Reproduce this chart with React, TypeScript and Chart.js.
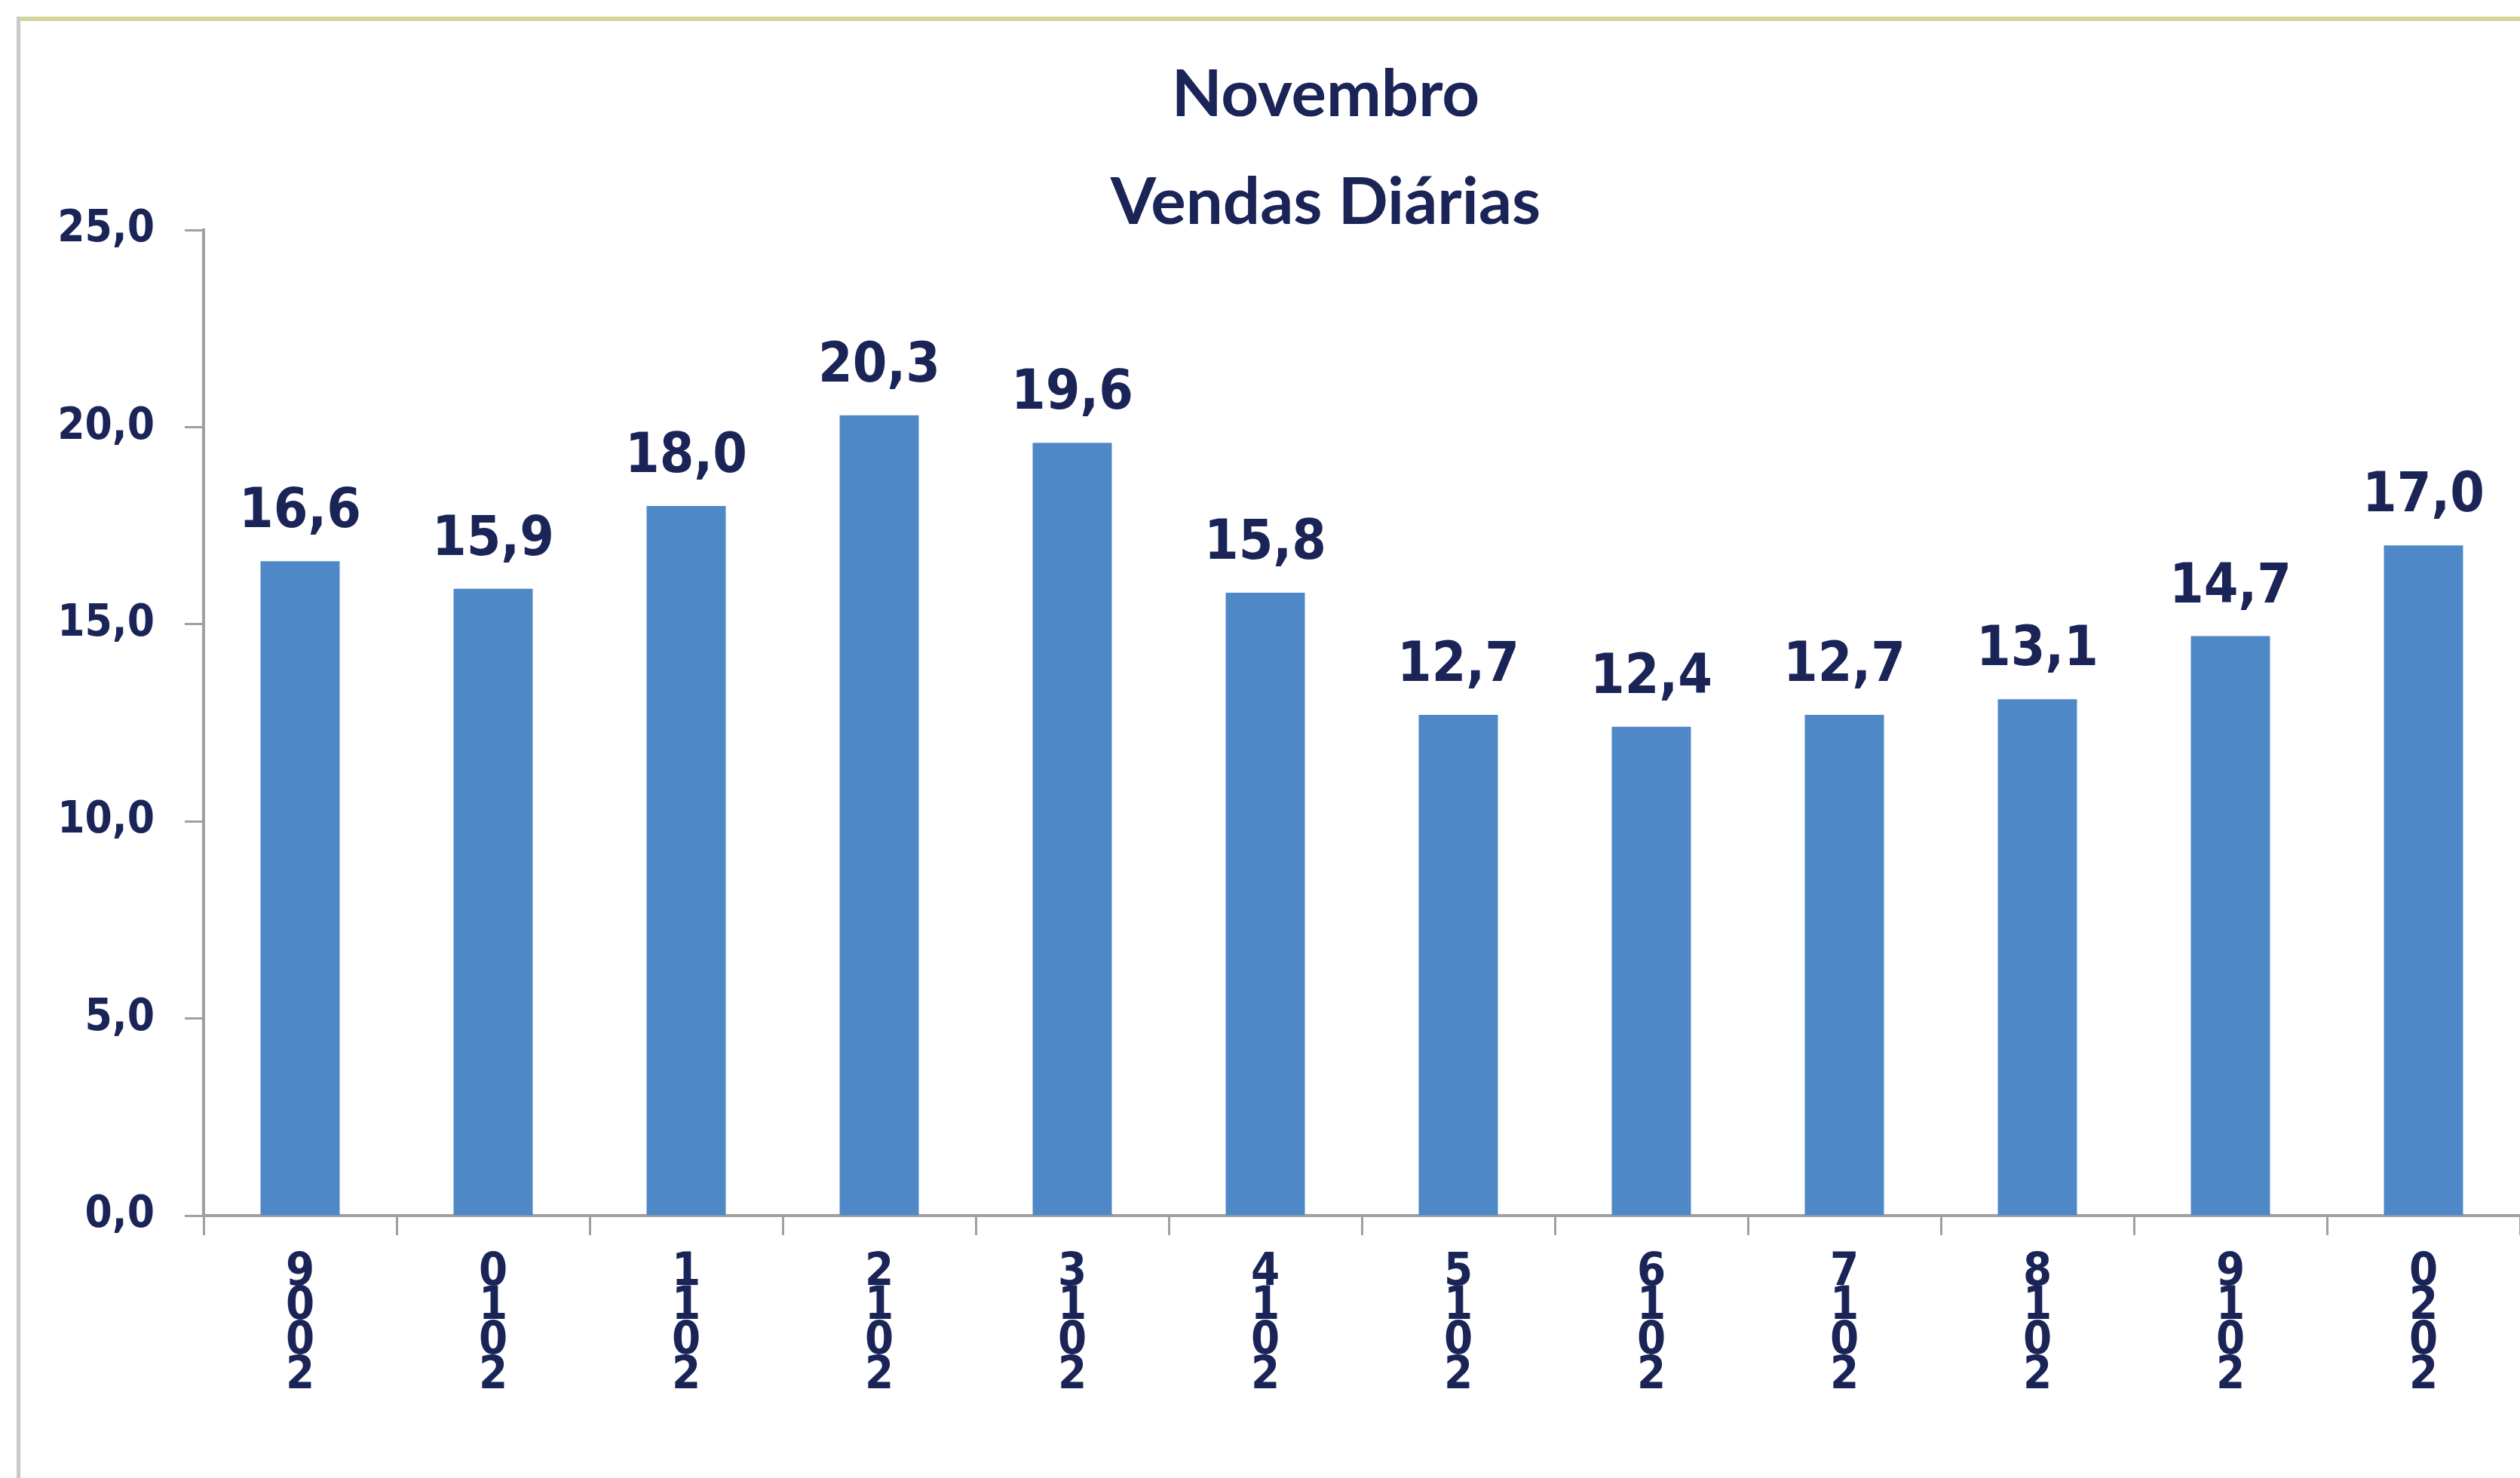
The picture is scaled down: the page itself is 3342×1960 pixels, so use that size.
import React, { useEffect, useRef } from "react";
import { Chart, registerables } from "chart.js";

Chart.register(...registerables);

const titleLines = ["Novembro", "Vendas Diárias"];
const years = ["2009", "2010", "2011", "2012", "2013", "2014", "2015", "2016", "2017", "2018", "2019", "2020"];
const sales = [16.6, 15.9, 18.0, 20.3, 19.6, 15.8, 12.7, 12.4, 12.7, 13.1, 14.7, 17.0];
const yMin = 0;
const yMax = 25;
const yStep = 5;

const W = 3342;
const H = 1960;
const NAVY = "#1a2457";
const BAR = "#4f88c6";
const AXIS = "#a0a0a0";
const FONT = '"DejaVu Sans Condensed", "DejaVu Sans", sans-serif';

const fmt = (v: number) => v.toFixed(1).replace(".", ",");

const valueLabels = {
  id: "valueLabels",
  afterDatasetsDraw(chart: any) {
    const ctx = chart.ctx;
    const meta = chart.getDatasetMeta(0);
    const data = chart.data.datasets[0].data as number[];
    ctx.save();
    ctx.fillStyle = NAVY;
    ctx.font = `bold 73px ${FONT}`;
    ctx.textAlign = "center";
    ctx.textBaseline = "alphabetic";
    meta.data.forEach((bar: any, i: number) => {
      ctx.fillText(fmt(data[i]), bar.x, bar.y - 45);
    });
    ctx.restore();
  },
};

// shift the title block so it is centred where the original title sits
const titleShift = {
  id: "titleShift",
  afterLayout(chart: any) {
    const tb = chart.titleBlock;
    if (tb) {
      tb.left = 174;
      tb.right = W;
    }
  },
};

export default function App() {
  const ref = useRef<HTMLCanvasElement | null>(null);
  useEffect(() => {
    if (!ref.current) return;
    const chart = new Chart(ref.current, {
      type: "bar",
      data: {
        labels: years,
        datasets: [
          {
            data: sales,
            backgroundColor: BAR,
            borderWidth: 0,
            categoryPercentage: 1,
            barPercentage: 0.41,
          },
        ],
      },
      options: {
        responsive: false,
        animation: false,
        layout: { padding: 0 },
        plugins: {
          legend: { display: false },
          tooltip: { enabled: false },
          title: {
            display: true,
            text: titleLines,
            color: NAVY,
            font: { family: "Lato", weight: "bold", size: 87, lineHeight: 1.644 },
            padding: { top: 54, bottom: -35 },
          },
        },
        scales: {
          x: {
            offset: true,
            grid: {
              offset: true,
              drawOnChartArea: false,
              drawTicks: true,
              tickLength: 26,
              tickWidth: 3,
              tickColor: AXIS,
            },
            border: { display: true, color: AXIS, width: 4 },
            ticks: {
              color: NAVY,
              font: { family: FONT, weight: "bold", size: 61, lineHeight: 0.75 },
              padding: 27,
              maxRotation: 0,
              autoSkip: false,
              callback: (_v: any, i: number) => years[i].split("").reverse(),
            },
            afterFit: (s: any) => {
              s.height = H - 1612;
            },
          },
          y: {
            min: yMin,
            max: yMax,
            grid: {
              drawOnChartArea: false,
              drawTicks: true,
              tickLength: 25,
              tickWidth: 3,
              tickColor: AXIS,
            },
            border: { display: true, color: AXIS, width: 4 },
            ticks: {
              stepSize: yStep,
              color: NAVY,
              padding: 40,
              font: { family: FONT, weight: "bold", size: 58 },
              callback: (v: any) => fmt(Number(v)),
            },
            afterFit: (s: any) => {
              s.width = 270;
            },
          },
        },
      },
      plugins: [valueLabels, titleShift],
    });
    return () => chart.destroy();
  }, []);

  return (
    <div style={{ position: "absolute", left: 0, top: 0, width: W, height: H, background: "#fff", overflow: "hidden" }}>
      <canvas ref={ref} width={W} height={H} style={{ position: "absolute", left: 0, top: 0, width: W, height: H }} />
      <div style={{ position: "absolute", left: 22, top: 22, width: W - 22, height: 6, background: "#d3d59b" }} />
      <div style={{ position: "absolute", left: 22, top: 22, width: 5, height: H - 22, background: "#c9c9c9" }} />
    </div>
  );
}
